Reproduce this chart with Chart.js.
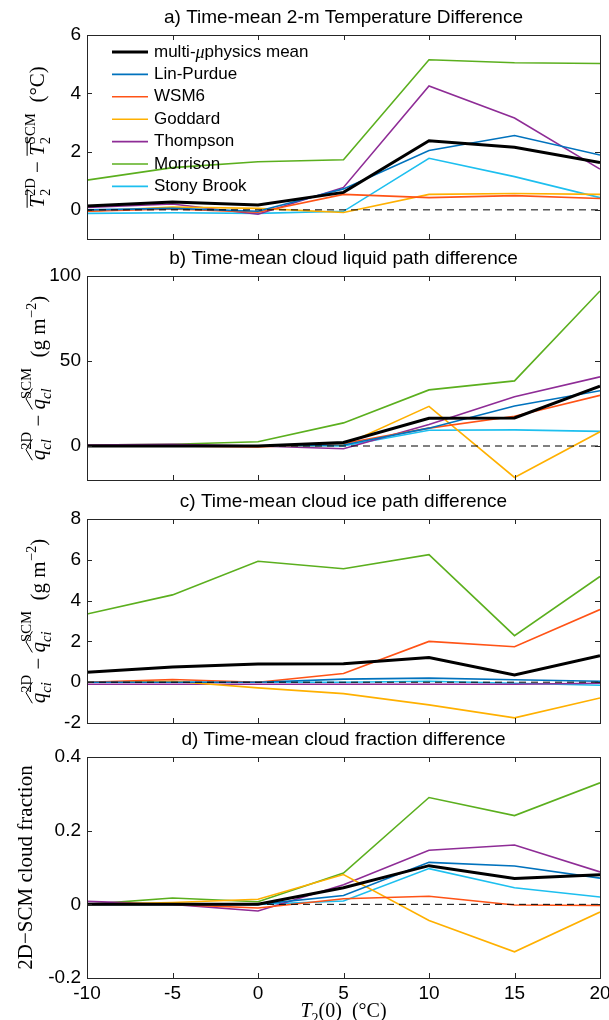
<!DOCTYPE html>
<html>
<head>
<meta charset="utf-8">
<script src="https://cdn.jsdelivr.net/npm/chart.js@4.4.1/dist/chart.umd.min.js"></script>
<style>
  html, body { margin: 0; padding: 0; background: #fff; }
  #wrap { position: relative; width: 609px; height: 1020px; }
  canvas { position: absolute; left: 0; }
</style>
</head>
<body>
<div id="wrap">
  <canvas id="cA" width="609" height="250" style="top:0px"></canvas>
  <canvas id="cB" width="609" height="240" style="top:250px"></canvas>
  <canvas id="cC" width="609" height="240" style="top:490px"></canvas>
  <canvas id="cD" width="609" height="295" style="top:725px"></canvas>
</div>
<script>
// T2(0) initial temperatures (x axis)
var temps = [-10, -5, 0, 5, 10, 15, 20];
var xTicks = [-10, -5, 0, 5, 10, 15, 20];

var schemes = ['multi-μphysics mean', 'Lin-Purdue', 'WSM6', 'Goddard', 'Thompson', 'Morrison', 'Stony Brook'];
var colors = ['#000000', '#0072BD', '#FF5316', '#FFB000', '#8E2C96', '#5BAF1E', '#1DBFEF'];

// a) time-mean 2-m temperature difference (degC)
var tMean     = [0.13, 0.27, 0.17, 0.60, 2.37, 2.15, 1.62];
var tLin      = [0.00, 0.05, -0.05, 0.72, 2.04, 2.55, 1.88];
var tWsm6     = [-0.05, 0.03, -0.08, 0.53, 0.42, 0.49, 0.39];
var tGoddard  = [-0.05, 0.10, 0.05, -0.09, 0.53, 0.56, 0.53];
var tThompson = [0.08, 0.20, -0.15, 0.77, 4.25, 3.15, 1.40];
var tMorrison = [1.02, 1.45, 1.65, 1.72, 5.15, 5.05, 5.02];
var tStony    = [-0.12, -0.10, -0.12, -0.05, 1.77, 1.14, 0.42];
var tTicks = [0, 2, 4, 6];

// b) time-mean cloud liquid path difference (g m-2)
var lMean     = [0.0, 0.0, 0.0, 2.1, 16.3, 16.5, 35.2];
var lLin      = [0.0, 0.0, 0.0, 0.6, 10.5, 23.5, 32.5];
var lWsm6     = [0.0, 0.0, -0.5, 1.5, 10.5, 17.5, 29.8];
var lGoddard  = [0.0, 0.0, 0.0, 0.5, 23.3, -18.5, 8.4];
var lThompson = [0.5, 1.0, 0.0, -1.6, 12.6, 29.0, 40.7];
var lMorrison = [0.5, 1.0, 2.5, 13.6, 33.0, 38.3, 91.2];
var lStony    = [0.0, 0.0, 0.0, 0.0, 9.3, 9.5, 8.6];
var lTicks = [0, 50, 100];

// c) time-mean cloud ice path difference (g m-2)
var iMean     = [0.49, 0.74, 0.89, 0.90, 1.21, 0.36, 1.30];
var iLin      = [0.00, 0.00, 0.00, 0.15, 0.20, 0.12, 0.05];
var iWsm6     = [0.00, 0.13, 0.00, 0.43, 2.00, 1.74, 3.56];
var iGoddard  = [0.00, 0.05, -0.28, -0.56, -1.11, -1.75, -0.77];
var iThompson = [-0.10, -0.10, -0.10, -0.10, -0.10, -0.10, -0.05];
var iMorrison = [3.34, 4.28, 5.93, 5.56, 6.25, 2.28, 5.18];
var iStony    = [0.00, 0.00, 0.00, 0.00, 0.05, -0.05, -0.15];
var iTicks = [-2, 0, 2, 4, 6, 8];

// d) time-mean cloud fraction difference
var fMean     = [0.000, 0.000, 0.000, 0.045, 0.105, 0.070, 0.080];
var fLin      = [0.000, 0.000, 0.000, 0.024, 0.114, 0.104, 0.071];
var fWsm6     = [0.000, 0.000, -0.010, 0.015, 0.022, -0.002, -0.003];
var fGoddard  = [0.000, 0.005, 0.014, 0.081, -0.044, -0.129, -0.021];
var fThompson = [0.008, 0.000, -0.018, 0.053, 0.147, 0.161, 0.088];
var fMorrison = [0.000, 0.017, 0.007, 0.085, 0.290, 0.241, 0.330];
var fStony    = [0.000, 0.000, 0.000, 0.009, 0.097, 0.045, 0.020];
var fTicks = [-0.2, 0, 0.2, 0.4];

var SANS = '"Liberation Sans", Arial, sans-serif';
var SERIF = '"Liberation Serif", "Times New Roman", serif';

// draw a line of text with sub/superscripts, bars and hats
function drawRich(ctx, segs, x, y, size, rot) {
    ctx.save();
    ctx.translate(x, y);
    ctx.rotate(rot);
    ctx.fillStyle = '#000';
    ctx.strokeStyle = '#000';
    ctx.textBaseline = 'alphabetic';
    ctx.textAlign = 'left';
    var fontOf = function (s) {
        var sz = (s.sub || s.sup) ? size * 0.7 : size;
        return (s.it ? 'italic ' : '') + sz + 'px ' + (s.sans ? SANS : SERIF);
    };
    var widths = [], total = 0;
    segs.forEach(function (s, i) {
        ctx.font = fontOf(s);
        var w = ctx.measureText(s.t).width;
        widths.push(w);
        if (s.back) {
            var d = w - widths[i - 1];
            total += d > 0 ? d : 0;
        } else {
            total += w;
        }
    });
    var cx = -total / 2, base = size * 0.35;
    var groups = {}, prevX = cx, prevW = 0;
    segs.forEach(function (s, i) {
        ctx.font = fontOf(s);
        var sx = s.back ? prevX : cx;
        var dy = s.sub ? size * 0.28 : (s.sup ? -size * 0.45 : 0);
        if (s.hatSup) dy = -size * 0.7;
        ctx.fillText(s.t, sx, base + dy);
        if (s.g) {
            if (!groups[s.g]) groups[s.g] = { x0: sx, x1: sx + widths[i], mark: s.mark };
            groups[s.g].x1 = Math.max(groups[s.g].x1, sx + widths[i]);
        }
        if (s.back) {
            cx = Math.max(prevX + prevW, sx + widths[i]);
        } else {
            prevX = sx; prevW = widths[i];
            cx = sx + widths[i];
        }
    });
    ctx.lineWidth = 1;
    Object.keys(groups).forEach(function (k) {
        var g = groups[k];
        ctx.beginPath();
        if (g.mark === 'bar') {
            ctx.moveTo(g.x0, base - size * 0.82);
            ctx.lineTo(g.x1, base - size * 0.82);
        } else {
            ctx.moveTo(g.x0, base - size * 0.62);
            ctx.lineTo((g.x0 + g.x1) / 2, base - size * 0.92);
            ctx.lineTo(g.x1, base - size * 0.62);
        }
        ctx.stroke();
    });
    ctx.restore();
}

// frame, inward ticks, zero line, titles, legend
var decor = {
    id: 'decor',
    afterDatasetsDraw: function (chart, args, opts) {
        var ctx = chart.ctx, a = chart.chartArea;
        var xs = chart.scales.x, ys = chart.scales.y;
        ctx.save();
        // dashed zero line
        var y0 = ys.getPixelForValue(0);
        ctx.strokeStyle = '#000';
        ctx.lineWidth = 1;
        ctx.setLineDash([7, 5]);
        ctx.beginPath();
        ctx.moveTo(a.left, y0);
        ctx.lineTo(a.right, y0);
        ctx.stroke();
        ctx.setLineDash([]);
        // frame
        ctx.strokeStyle = '#262626';
        ctx.lineWidth = 1;
        ctx.strokeRect(a.left + 0.5, a.top + 0.5, a.right - a.left, a.bottom - a.top);
        var tl = 5;
        ctx.beginPath();
        xTicks.forEach(function (v) {
            var px = Math.round(xs.getPixelForValue(v)) + 0.5;
            ctx.moveTo(px, a.bottom); ctx.lineTo(px, a.bottom - tl);
            ctx.moveTo(px, a.top); ctx.lineTo(px, a.top + tl);
        });
        opts.yTicks.forEach(function (v) {
            var py = Math.round(ys.getPixelForValue(v)) + 0.5;
            ctx.moveTo(a.left, py); ctx.lineTo(a.left + tl, py);
            ctx.moveTo(a.right, py); ctx.lineTo(a.right - tl, py);
        });
        ctx.stroke();
        // panel title
        ctx.fillStyle = '#000';
        ctx.font = '19px ' + SANS;
        ctx.textAlign = 'center';
        ctx.textBaseline = 'middle';
        ctx.fillText(opts.title, (a.left + a.right) / 2, a.top - 17);
        // y label
        drawRich(ctx, opts.ylabel, opts.ylabelX, (a.top + a.bottom) / 2, opts.ylabelSize || 21, -Math.PI / 2);
        if (opts.xlabel) {
            drawRich(ctx, opts.xlabel, (a.left + a.right) / 2, a.bottom + 32, 20, 0);
        }
        // legend
        if (opts.legend) {
            chart.data.datasets.forEach(function (ds, i) {
                var ly = 52 + i * 22.4;
                ctx.strokeStyle = ds.borderColor;
                ctx.lineWidth = ds.borderWidth;
                ctx.beginPath();
                ctx.moveTo(112, ly);
                ctx.lineTo(148, ly);
                ctx.stroke();
                ctx.textAlign = 'left';
                ctx.font = '17px ' + SANS;
                ctx.fillStyle = '#000';
                if (i === 0) {
                    var t1 = 'multi-';
                    ctx.fillText(t1, 154, ly);
                    var w1 = ctx.measureText(t1).width;
                    ctx.font = 'italic 18px ' + SERIF;
                    ctx.fillText('μ', 154 + w1, ly + 1);
                    var w2 = ctx.measureText('μ').width;
                    ctx.font = '17px ' + SANS;
                    ctx.fillText('physics mean', 154 + w1 + w2, ly);
                } else {
                    ctx.fillText(ds.label, 154, ly);
                }
            });
        }
        ctx.restore();
    }
};

function makeChart(id, series, yMin, yMax, yTicks, pad, opts) {
    var datasets = series.map(function (vals, i) {
        return {
            label: schemes[i],
            data: temps.map(function (t, j) { return { x: t, y: vals[j] }; }),
            borderColor: colors[i],
            backgroundColor: colors[i],
            borderWidth: i === 0 ? 3 : 1.6,
            pointRadius: 0,
            tension: 0,
            fill: false
        };
    });
    opts.yTicks = yTicks;
    var showX = !!opts.xlabel;
    return new Chart(document.getElementById(id), {
        type: 'line',
        data: { datasets: datasets },
        options: {
            responsive: false,
            animation: false,
            devicePixelRatio: 1,
            layout: { padding: pad },
            plugins: { legend: { display: false }, tooltip: { enabled: false }, decor: opts },
            scales: {
                x: {
                    type: 'linear',
                    min: -10, max: 20,
                    display: showX,
                    grid: { display: false, drawTicks: false },
                    border: { display: false },
                    afterBuildTicks: function (s) { s.ticks = xTicks.map(function (v) { return { value: v }; }); },
                    afterFit: function (s) {
                        s.height = showX ? 42 : 0;
                        s.paddingLeft = 0; s.paddingRight = 0;
                    },
                    ticks: { color: '#000', font: { family: SANS, size: 19 }, padding: 4, maxRotation: 0,
                        callback: function (v) { return String(v); } }
                },
                y: {
                    type: 'linear',
                    min: yMin, max: yMax,
                    grid: { display: false, drawTicks: false },
                    border: { display: false },
                    afterBuildTicks: function (s) { s.ticks = yTicks.map(function (v) { return { value: v }; }); },
                    afterFit: function (s) { s.width = 87; s.paddingTop = 0; s.paddingBottom = 0; },
                    ticks: { color: '#000', font: { family: SANS, size: 19 }, padding: 6,
                        callback: function (v) { return String(Math.round(v * 100) / 100); } }
                }
            }
        },
        plugins: [decor]
    });
}

makeChart('cA', [tMean, tLin, tWsm6, tGoddard, tThompson, tMorrison, tStony], -1, 6, tTicks,
    { top: 35, bottom: 11, left: 0, right: 9 },
    {
        title: 'a) Time-mean 2-m Temperature Difference', legend: true, ylabelX: 37,
        ylabel: [
            { t: 'T', it: true, g: 'a', mark: 'bar' }, { t: '2', sub: true, g: 'a' }, { t: '2D', sup: true, back: true },
            { t: ' − ' },
            { t: 'T', it: true, g: 'b', mark: 'bar' }, { t: '2', sub: true, g: 'b' }, { t: 'SCM', sup: true, back: true },
            { t: '  (°C)' }
        ]
    });

makeChart('cB', [lMean, lLin, lWsm6, lGoddard, lThompson, lMorrison, lStony], -20, 100, lTicks,
    { top: 26, bottom: 10, left: 0, right: 9 },
    {
        title: 'b) Time-mean cloud liquid path difference', ylabelX: 38,
        ylabel: [
            { t: 'q', it: true, g: 'a', mark: 'hat' }, { t: 'cl', it: true, sub: true, g: 'a' }, { t: '2D', sup: true, back: true, hatSup: true },
            { t: ' − ' },
            { t: 'q', it: true, g: 'b', mark: 'hat' }, { t: 'cl', it: true, sub: true, g: 'b' }, { t: 'SCM', sup: true, back: true, hatSup: true },
            { t: '  (g m' }, { t: '−2', sup: true }, { t: ')' }
        ]
    });

makeChart('cC', [iMean, iLin, iWsm6, iGoddard, iThompson, iMorrison, iStony], -2, 8, iTicks,
    { top: 29, bottom: 7, left: 0, right: 9 },
    {
        title: 'c) Time-mean cloud ice path difference', ylabelX: 38,
        ylabel: [
            { t: 'q', it: true, g: 'a', mark: 'hat' }, { t: 'ci', it: true, sub: true, g: 'a' }, { t: '2D', sup: true, back: true, hatSup: true },
            { t: ' − ' },
            { t: 'q', it: true, g: 'b', mark: 'hat' }, { t: 'ci', it: true, sub: true, g: 'b' }, { t: 'SCM', sup: true, back: true, hatSup: true },
            { t: '  (g m' }, { t: '−2', sup: true }, { t: ')' }
        ]
    });

makeChart('cD', [fMean, fLin, fWsm6, fGoddard, fThompson, fMorrison, fStony], -0.2, 0.4, fTicks,
    { top: 32, bottom: 0, left: 0, right: 9 },
    {
        title: 'd) Time-mean cloud fraction difference', ylabelX: 25,
        ylabel: [{ t: '2D−SCM cloud fraction' }],
        xlabel: [{ t: 'T', it: true }, { t: '2', sub: true }, { t: '(0)  (°C)' }]
    });
</script>
</body>
</html>
